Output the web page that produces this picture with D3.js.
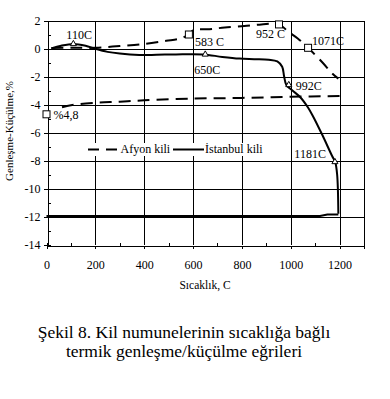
<!DOCTYPE html>
<html>
<head>
<meta charset="utf-8">
<script src="https://cdn.jsdelivr.net/npm/d3@7"></script>
<style>
  body { margin: 0; background: #fff; }
  text { font-family: "Liberation Serif", "Times New Roman", Times, serif; fill: #000; }
</style>
</head>
<body>
<svg width="390" height="399"></svg>
<script>
// [temperature C, change %]
let afyonHeating = [[20, 0.03], [100, 0.06], [200, 0.05], [300, 0.18], [400, 0.33], [490, 0.55],
    [545, 0.7], [583, 1.0], [600, 1.3], [667, 1.38], [730, 1.5], [810, 1.6], [880, 1.72],
    [952, 1.72], [990, 1.2], [1030, 0.7], [1071, 0.05], [1130, -1.0], [1171, -1.8], [1195, -2.15]];
let afyonCooling = [[1200, -3.4], [1000, -3.45], [800, -3.53], [600, -3.58], [400, -3.7],
    [300, -3.8], [200, -3.88], [100, -4.05], [40, -4.3]];
let istanbulHeating = [[20, 0], [60, 0.2], [110, 0.33], [160, 0.2], [200, -0.02], [250, -0.24],
    [300, -0.36], [380, -0.46], [450, -0.45], [530, -0.42], [640, -0.42], [720, -0.6],
    [790, -0.72], [850, -0.76], [910, -0.8], [945, -0.92], [965, -1.3], [973, -2.0], [982, -2.6],
    [1007, -3.0], [1040, -3.5], [1070, -4.2], [1090, -4.8], [1130, -6.2], [1170, -7.7],
    [1182, -8.1], [1190, -9.0], [1195, -11.8]];
let istanbulCooling = [[1195, -11.85], [1150, -11.85], [1120, -11.96], [0, -11.96]];

let afyonMarks = [[0, -4.7], [583, 1.0], [952, 1.72], [1071, 0.05]];
let afyonLabels = ["%4,8", "583 C", "952 C", "1071C"];
let istanbulMarks = [[110, 0.33], [650, -0.42], [992, -2.6], [1181, -8.1]];
let istanbulLabels = ["110C", "650C", "992C", "1181C"];

let xTicks = [0, 200, 400, 600, 800, 1000, 1200];
let yTicks = [-14, -12, -10, -8, -6, -4, -2, 0, 2];
let seriesNames = ["Afyon kili", "İstanbul kili"];
let caption = ["Şekil 8. Kil numunelerinin sıcaklığa bağlı", "termik genleşme/küçülme eğrileri"];

let serif = "'Liberation Serif', 'Times New Roman', Times, serif";
let svg = d3.select("svg").attr("font-family", serif);

let x = d3.scaleLinear().domain([0, 1300]).range([46.5, 364]);
let y = d3.scaleLinear().domain([-14, 2]).range([244.5, 20.5]);

//grid
let grid = svg.append("g").attr("shape-rendering", "crispEdges")
    .attr("stroke", "#000").attr("stroke-width", 1);
grid.selectAll("line.v")
    .data(xTicks.slice(1).concat([1300])).enter().append("line")
        .attr("x1", d => Math.round(x(d)) + 0.5).attr("x2", d => Math.round(x(d)) + 0.5)
        .attr("y1", y(2)).attr("y2", y(-14));
grid.selectAll("line.h")
    .data(yTicks.slice(1)).enter().append("line")
        .attr("y1", d => Math.round(y(d)) + 0.5).attr("y2", d => Math.round(y(d)) + 0.5)
        .attr("x1", x(0)).attr("x2", x(1300));

//axes
let xAxis = svg.append("g")
    .attr("transform", `translate(0,${Math.round(y(-14)) + 0.5})`)
    .call(d3.axisBottom(x).tickValues(xTicks).tickSize(3).tickPadding(12).tickFormat(d3.format("d")));
let xMinor = svg.append("g")
    .attr("transform", `translate(0,${Math.round(y(-14)) + 0.5})`)
    .call(d3.axisTop(x).tickValues(d3.range(100, 1300, 200)).tickSize(3).tickFormat(""));
let yAxis = svg.append("g")
    .attr("transform", `translate(${Math.round(x(0)) + 0.5},0)`)
    .call(d3.axisLeft(y).tickValues(yTicks).tickSize(4).tickPadding(3).tickFormat(d3.format("d")));
let yMinor = svg.append("g")
    .attr("transform", `translate(${Math.round(x(0)) + 0.5},0)`)
    .call(d3.axisRight(y).tickValues(d3.range(-13, 2, 2)).tickSize(3).tickFormat(""));

[xAxis, xMinor, yAxis, yMinor].forEach(a => {
    a.attr("font-family", serif).attr("font-size", 12);
    a.select(".domain").attr("stroke", "#000").attr("shape-rendering", "crispEdges");
    a.selectAll(".tick line").attr("stroke", "#000").attr("shape-rendering", "crispEdges");
    a.selectAll("text").attr("fill", "#000");
});
yAxis.selectAll("text").text(d => d < 0 ? "-" + Math.abs(d) : d);

svg.append("text")
    .attr("x", 205).attr("y", 289)
    .attr("text-anchor", "middle").attr("font-size", 11.5)
    .text("Sıcaklık, C");

svg.append("text")
    .attr("transform", "translate(13,131) rotate(-90)")
    .attr("text-anchor", "middle").attr("font-size", 11)
    .text("Genleşme-Küçülme,%");

//curves
let smooth = d3.line().x(d => x(d[0])).y(d => y(d[1])).curve(d3.curveCatmullRom.alpha(0.5));
let straight = d3.line().x(d => x(d[0])).y(d => y(d[1]));

let curves = svg.append("g").attr("fill", "none").attr("stroke", "#000").attr("stroke-width", 2);
curves.append("path").attr("d", smooth(afyonHeating)).attr("stroke-dasharray", "12,7");
curves.append("path").attr("d", smooth(afyonCooling)).attr("stroke-dasharray", "12,7");
curves.append("path").attr("d", smooth(istanbulHeating));
curves.append("path").attr("d", straight(istanbulCooling));

//markers
svg.append("g").selectAll("rect")
    .data(afyonMarks).enter().append("rect")
        .attr("x", d => x(d[0]) - 3.5).attr("y", d => y(d[1]) - 3.5)
        .attr("width", 7).attr("height", 7)
        .attr("fill", "#fff").attr("stroke", "#000").attr("stroke-width", 1);

svg.append("g").selectAll("path")
    .data(istanbulMarks).enter().append("path")
        .attr("d", d3.symbol(d3.symbolTriangle, 16))
        .attr("transform", d => `translate(${x(d[0])},${y(d[1])})`)
        .attr("fill", "#fff").attr("stroke", "#000").attr("stroke-width", 1);

//marker labels
let afyonOffsets = [[7, 5, "start"], [6, 11, "start"], [6, 14, "end"], [4, -3, "start"]];
let istanbulOffsets = [[-7, -5, "start"], [-11, 20, "start"], [7, 5, "start"], [-9, -4, "end"]];
let labelGroup = svg.append("g").attr("font-size", 12);
afyonMarks.forEach((m, i) => {
    labelGroup.append("text")
        .attr("x", x(m[0]) + afyonOffsets[i][0]).attr("y", y(m[1]) + afyonOffsets[i][1])
        .attr("text-anchor", afyonOffsets[i][2]).text(afyonLabels[i]);
});
istanbulMarks.forEach((m, i) => {
    labelGroup.append("text")
        .attr("x", x(m[0]) + istanbulOffsets[i][0]).attr("y", y(m[1]) + istanbulOffsets[i][1])
        .attr("text-anchor", istanbulOffsets[i][2]).text(istanbulLabels[i]);
});

//legend
let legend = svg.append("g");
legend.append("rect")
    .attr("x", 60).attr("y", 143).attr("width", 208).attr("height", 13).attr("fill", "#fff");
legend.append("line")
    .attr("x1", 88).attr("x2", 118).attr("y1", 149.5).attr("y2", 149.5)
    .attr("stroke", "#000").attr("stroke-width", 2).attr("stroke-dasharray", "11,7");
legend.append("text").attr("x", 120.5).attr("y", 153).attr("font-size", 12).text(seriesNames[0]);
legend.append("line")
    .attr("x1", 173).attr("x2", 204).attr("y1", 149.5).attr("y2", 149.5)
    .attr("stroke", "#000").attr("stroke-width", 2);
legend.append("text").attr("x", 205).attr("y", 153).attr("font-size", 12).text(seriesNames[1]);

//caption
svg.append("g").selectAll("text")
    .data(caption).enter().append("text")
        .attr("x", 184).attr("y", (d, i) => 338 + i * 19)
        .attr("text-anchor", "middle").attr("font-size", 17.5)
        .text(d => d);
</script>
</body>
</html>
